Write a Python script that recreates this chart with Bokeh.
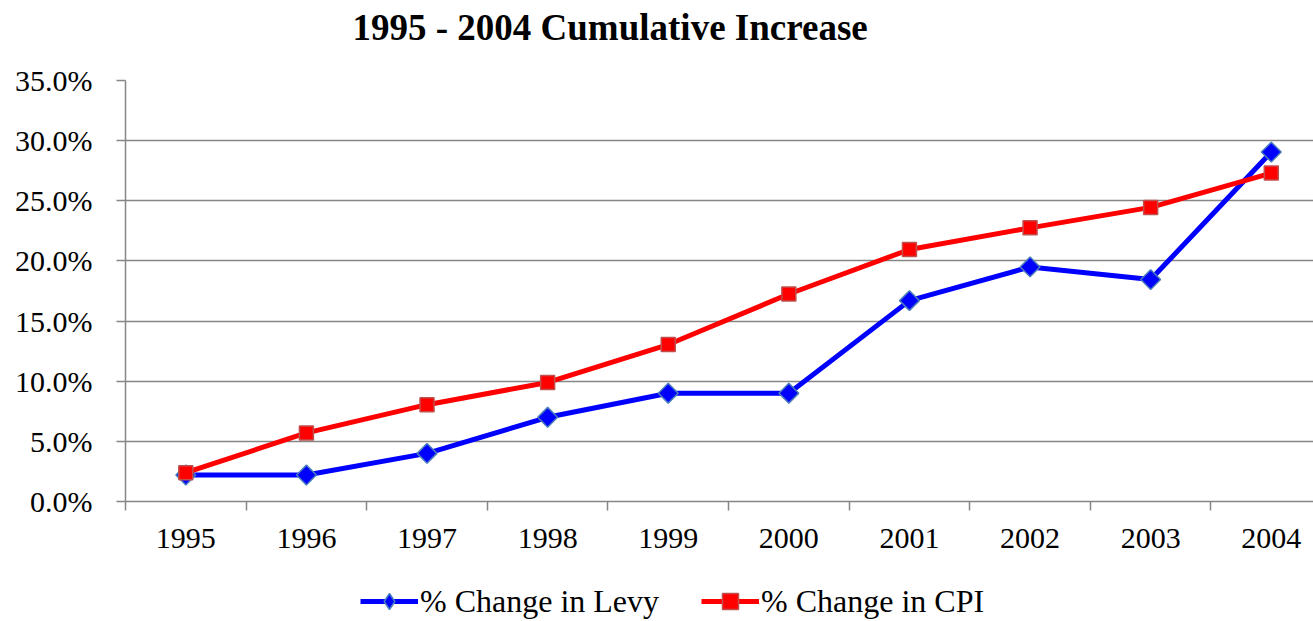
import numpy as np
from bokeh.plotting import figure
from bokeh.layouts import column
from bokeh.models import (Range1d, FixedTicker, PrintfTickFormatter, Legend, LegendItem, Label)
from bokeh.embed import file_html
from bokeh.resources import INLINE

years = ["1995", "1996", "1997", "1998", "1999", "2000", "2001", "2002", "2003", "2004"]
levy = [2.2, 2.2, 4.0, 7.0, 9.0, 9.0, 16.7, 19.5, 18.45, 29.05]
cpi = [2.4, 5.7, 8.05, 9.9, 13.05, 17.25, 20.95, 22.75, 24.45, 27.3]
y_ticks = [0, 5, 10, 15, 20, 25, 30, 35]
title_text = "1995 - 2004 Cumulative Increase"
series_names = ["% Change in Levy", "% Change in CPI"]

xs = list(range(len(years)))
FONT = "Liberation Serif"
GRID = "#868686"
BLUE, BLUE_EDGE = "#0000ff", "#4a7ebb"
RED, RED_EDGE = "#ff0000", "#c0504d"


def blank(h, xr=(0, 1), yr=(0, 1)):
    f = figure(width=1313, height=h, output_backend="svg", toolbar_location=None,
               x_range=Range1d(*xr), y_range=Range1d(*yr),
               min_border_left=125, min_border_right=0, min_border_top=0, min_border_bottom=0)
    f.axis.visible = False
    f.grid.grid_line_color = None
    f.outline_line_color = None
    return f


# ---- title strip
pt = blank(60)
pt.add_layout(Label(x=227, y=33, x_units="screen", y_units="screen", text=title_text,
                    text_font=FONT, text_font_size="37px", text_font_style="bold",
                    text_color="black", text_align="left", text_baseline="middle"))

# ---- main plot
p = figure(width=1313, height=515, output_backend="svg", toolbar_location=None,
           x_range=Range1d(-0.5, 9.35), y_range=Range1d(0, 35),
           min_border_left=125, min_border_right=0, min_border_top=20, min_border_bottom=74)
p.outline_line_color = None
p.background_fill_color = "white"

p.xaxis.ticker = FixedTicker(ticks=xs, minor_ticks=[i - 0.5 for i in range(len(years) + 1)])
p.xaxis.major_label_overrides = {i: y for i, y in enumerate(years)}
p.xaxis.major_tick_out = 0
p.xaxis.major_tick_in = 0
p.xaxis.minor_tick_out = 9
p.xaxis.minor_tick_in = 0
p.xaxis.minor_tick_line_color = GRID
p.xaxis.minor_tick_line_width = 1.5
p.xaxis.major_label_standoff = 18
p.xaxis.major_label_text_font = FONT
p.xaxis.major_label_text_font_size = "30px"
p.xaxis.major_label_text_color = "black"
p.xaxis.axis_line_color = GRID
p.xaxis.axis_line_width = 1.5

p.yaxis.ticker = FixedTicker(ticks=y_ticks)
p.yaxis.formatter = PrintfTickFormatter(format="%.1f%%")
p.yaxis.major_tick_out = 9
p.yaxis.major_tick_in = 0
p.yaxis.minor_tick_line_color = None
p.yaxis.major_tick_line_color = GRID
p.yaxis.major_tick_line_width = 1.5
p.yaxis.major_label_standoff = 24
p.yaxis.major_label_text_font = FONT
p.yaxis.major_label_text_font_size = "30px"
p.yaxis.major_label_text_color = "black"
p.yaxis.axis_line_color = GRID
p.yaxis.axis_line_width = 1.5

p.xgrid.grid_line_color = None
p.ygrid.grid_line_color = GRID
p.ygrid.grid_line_width = 1.5

p.line(xs, levy, line_color=BLUE, line_width=5)
p.scatter(xs, levy, marker="square", angle=np.pi / 4, size=14,
          fill_color=BLUE, line_color=BLUE_EDGE, line_width=1.5)
p.line(xs, cpi, line_color=RED, line_width=5)
p.scatter(xs, cpi, marker="square", size=14,
          fill_color=RED, line_color=RED_EDGE, line_width=1.5)

# ---- legend strip (series drawn out of view; only the legend keys show)
pl = blank(46, xr=(100, 101), yr=(100, 101))
k1 = pl.line(xs, levy, line_color=BLUE, line_width=5)
s1 = pl.scatter(xs, levy, marker="diamond", size=14,
                fill_color=BLUE, line_color=BLUE_EDGE, line_width=1.5)
k2 = pl.line(xs, cpi, line_color=RED, line_width=5)
s2 = pl.scatter(xs, cpi, marker="square", size=14,
                fill_color=RED, line_color=RED_EDGE, line_width=1.5)
legend = Legend(items=[LegendItem(label=series_names[0], renderers=[k1, s1]),
                       LegendItem(label=series_names[1], renderers=[k2, s2])],
                orientation="horizontal", location=(235, 0),
                label_text_font=FONT, label_text_font_size="32px", label_text_color="black",
                glyph_width=58, glyph_height=40, label_standoff=2, spacing=42,
                border_line_color=None, background_fill_alpha=0, padding=0, margin=0)
pl.add_layout(legend)

layout = column(pt, p, pl, spacing=0)
open("out.html", "w").write(file_html(layout, INLINE))
